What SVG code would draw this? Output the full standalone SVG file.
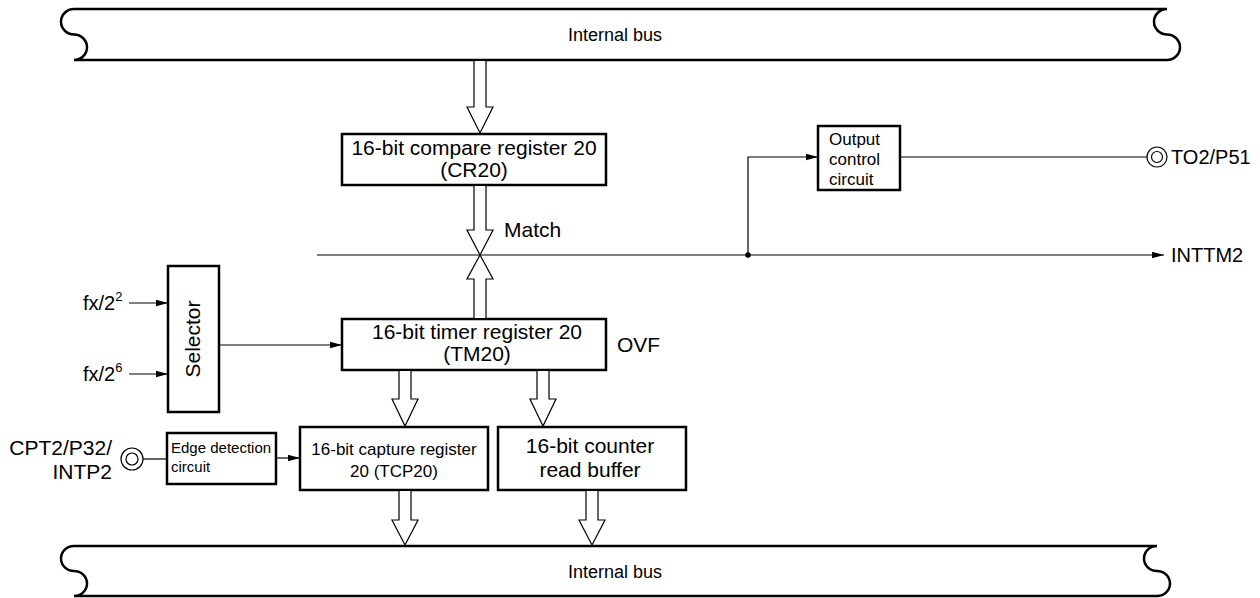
<svg xmlns="http://www.w3.org/2000/svg" width="1260" height="598" viewBox="0 0 1260 598">
<defs>
<marker id="ah" viewBox="0 0 12 8" refX="12" refY="4" markerWidth="12" markerHeight="8" markerUnits="userSpaceOnUse" orient="auto">
<path d="M0,0.8 L12,4 L0,7.2 Z" fill="#000"/>
</marker>
<style>
.box{fill:#fff;stroke:#000;stroke-width:2.5}
.bus{fill:#fff;stroke:#000;stroke-width:2.5}
.ln{fill:none;stroke:#000;stroke-width:1.2}
.hol{fill:#fff;stroke:#000;stroke-width:1.2;stroke-linejoin:miter}
.t{font-family:"Liberation Sans",Arial,sans-serif;fill:#000}
.t21{font-size:21px}
.t20{font-size:20px}
.t18{font-size:18px}
.t17{font-size:17px}
.t15{font-size:15px}
.mid{text-anchor:middle}
.end{text-anchor:end}
</style>
</defs>

<g id="bus-top">
<path class="bus" d="M74,9 H1167 A13,12.75 0 0 0 1167,34.5 A13,12.75 0 0 1 1167,60 H74 A13,12.75 0 0 0 74,34.5 A13,12.75 0 0 1 74,9 Z"/>
<text class="t t18 mid" x="615" y="41">Internal bus</text>
</g>

<g id="bus-bottom">
<path class="bus" d="M74,546 H1157 A13,12.5 0 0 0 1157,571 A13,12.5 0 0 1 1157,596 H74 A13,12.5 0 0 0 74,571 A13,12.5 0 0 1 74,546 Z"/>
<text class="t t18 mid" x="615" y="578">Internal bus</text>
</g>

<g id="cr20">
<rect class="box" x="342" y="134" width="264" height="51"/>
<text class="t t21 mid" x="474" y="155">16-bit compare register 20</text>
<text class="t t21 mid" x="474" y="177">(CR20)</text>
</g>

<g id="tm20">
<rect class="box" x="342" y="319" width="264" height="51"/>
<text class="t t21 mid" x="477" y="339">16-bit timer register 20</text>
<text class="t t21 mid" x="477" y="361">(TM20)</text>
</g>

<g id="selector">
<rect class="box" x="168" y="266" width="51" height="146"/>
<text class="t t21 mid" transform="translate(200,339) rotate(-90)" x="0" y="0">Selector</text>
</g>

<g id="output-control">
<rect class="box" x="818" y="126" width="82" height="64"/>
<text class="t t17" x="829" y="145">Output</text>
<text class="t t17" x="829" y="165">control</text>
<text class="t t17" x="829" y="185">circuit</text>
</g>

<g id="edge-detection">
<rect class="box" x="167" y="433" width="109" height="51"/>
<text class="t t15" x="171" y="453">Edge detection</text>
<text class="t t15" x="171" y="472">circuit</text>
</g>

<g id="tcp20">
<rect class="box" x="300" y="427" width="188" height="63"/>
<text class="t t17 mid" x="394" y="455">16-bit capture register</text>
<text class="t t17 mid" x="394" y="477">20 (TCP20)</text>
</g>

<g id="read-buffer">
<rect class="box" x="498" y="427" width="188" height="63"/>
<text class="t t21 mid" x="590" y="453">16-bit counter</text>
<text class="t t21 mid" x="590" y="477">read buffer</text>
</g>

<g id="pin-to2">
<circle cx="1157" cy="157" r="10" fill="#fff" stroke="#000" stroke-width="1.2"/>
<circle cx="1157" cy="157" r="5.5" fill="none" stroke="#000" stroke-width="1.2"/>
<text class="t t20" x="1171" y="164">TO2/P51</text>
</g>

<g id="pin-cpt2">
<circle cx="132" cy="459" r="11" fill="#fff" stroke="#000" stroke-width="1.2"/>
<circle cx="132" cy="459" r="6" fill="none" stroke="#000" stroke-width="1.2"/>
<text class="t t21 end" x="112" y="455">CPT2/P32/</text>
<text class="t t21 end" x="112" y="479">INTP2</text>
</g>

<g id="labels">
<text class="t t21" x="504" y="237">Match</text>
<text class="t t21" x="617" y="352">OVF</text>
<text class="t t20" x="1171" y="262">INTTM2</text>
<text class="t" font-size="20" x="83" y="310">fx/2<tspan font-size="13" dy="-9">2</tspan></text>
<text class="t" font-size="20" x="83" y="381">fx/2<tspan font-size="13" dy="-9">6</tspan></text>
</g>

<g id="connectors">
<line class="ln" x1="317" y1="255" x2="1164" y2="255" marker-end="url(#ah)"/>
<circle cx="748" cy="255" r="2.8" fill="#000"/>
<polyline class="ln" points="748,255 748,157 818,157" marker-end="url(#ah)"/>
<line class="ln" x1="900" y1="157" x2="1147" y2="157"/>
<line class="ln" x1="129" y1="303" x2="168" y2="303" marker-end="url(#ah)"/>
<line class="ln" x1="129" y1="374" x2="168" y2="374" marker-end="url(#ah)"/>
<line class="ln" x1="219" y1="345" x2="342" y2="345" marker-end="url(#ah)"/>
<line class="ln" x1="143" y1="459" x2="167" y2="459"/>
<line class="ln" x1="276" y1="458" x2="300" y2="458" marker-end="url(#ah)"/>
<path class="hol" d="M474,61 V107 H467 L480,133 L493,107 H486 V61"/>
<path class="hol" d="M474,186 V230 H467 L480,255 L493,230 H486 V186"/>
<path class="hol" d="M474,318 V279 H467 L480,255 L493,279 H486 V318"/>
<path class="hol" d="M399,371 V399 H392 L405,426 L418,399 H411 V371"/>
<path class="hol" d="M537,371 V399 H530 L543,426 L556,399 H549 V371"/>
<path class="hol" d="M399,491 V520 H392 L405,545 L418,520 H411 V491"/>
<path class="hol" d="M586,491 V520 H579 L592,545 L605,520 H598 V491"/>
</g>
</svg>
